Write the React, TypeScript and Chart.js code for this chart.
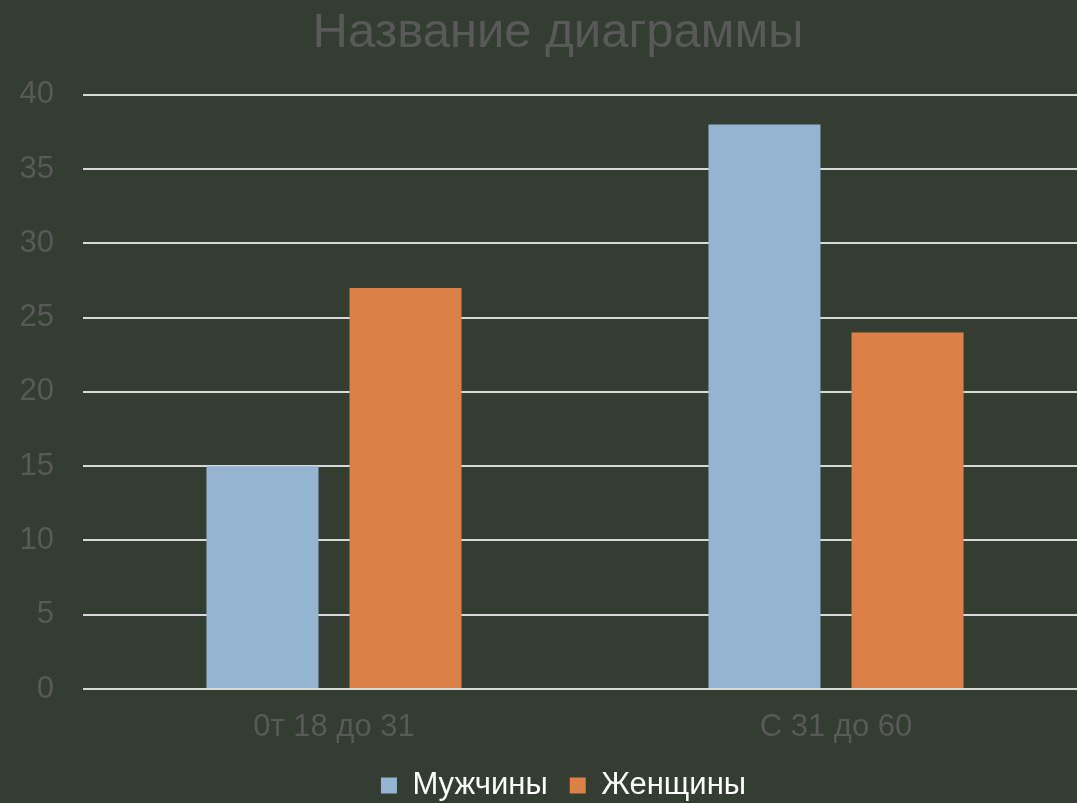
import React, { useEffect, useRef } from "react";
import { Chart, registerables } from "chart.js";

Chart.register(...registerables);

const categories = ["0т 18 до 31", "С 31 до 60"];
const seriesNames = ["Мужчины", "Женщины"];
const menValues = [15, 38];
const womenValues = [27, 24];
const yTicks = [0, 5, 10, 15, 20, 25, 30, 35, 40];

const BG = "#333d31";
const FONT = "'Liberation Sans', Arial, sans-serif";

export default function App() {
  const ref = useRef<HTMLCanvasElement | null>(null);
  useEffect(() => {
    document.body.style.margin = "0";
    const ctx = ref.current!;
    const chart = new Chart(ctx, {
      type: "bar",
      data: {
        labels: categories,
        datasets: [
          { label: seriesNames[0], data: menValues, backgroundColor: "#95b4d2", borderWidth: 0 },
          { label: seriesNames[1], data: womenValues, backgroundColor: "#dd8047", borderWidth: 0 },
        ],
      },
      options: {
        animation: false,
        responsive: false,
        maintainAspectRatio: false,
        layout: { padding: { left: 0, right: 0, top: 0, bottom: -8 } },
        datasets: { bar: { categoryPercentage: 0.57, barPercentage: 0.783 } },
        plugins: {
          title: {
            display: true,
            text: "Название диаграммы",
            color: "#595959",
            font: { family: FONT, size: 49, weight: "normal" },
            padding: { top: 4, bottom: 32 },
          },
          legend: {
            position: "bottom",
            labels: {
              color: "#ffffff",
              font: { family: FONT, size: 31 },
              boxWidth: 16,
              boxHeight: 16,
              padding: 22,
            },
          },
          tooltip: { enabled: false },
        },
        scales: {
          x: {
            grid: { display: false },
            border: { display: false },
            afterFit: (scale: any) => {
              scale.height = 59;
            },
            ticks: { color: "#595959", font: { family: FONT, size: 31 }, padding: 12 },
          },
          y: {
            min: 0,
            max: 40,
            afterBuildTicks: (scale: any) => {
              scale.ticks = yTicks.map((v) => ({ value: v }));
            },
            afterFit: (scale: any) => {
              scale.width = 83;
            },
            grid: { color: "#d9d9d9", lineWidth: 2, drawTicks: false },
            border: { display: false },
            ticks: { color: "#595959", font: { family: FONT, size: 31 }, padding: 29 },
          },
        },
      },
      plugins: [
        {
          id: "bg",
          beforeDraw: (c: any) => {
            const g = c.ctx;
            g.save();
            g.fillStyle = BG;
            g.fillRect(0, 0, c.width, c.height);
            g.restore();
          },
        },
        {
          id: "shiftBoxes",
          afterLayout: (c: any) => {
            if (c.titleBlock) {
              c.titleBlock.left += 29;
            }
            if (c.legend) {
              c.legend.left += 20;
              c.legend.right += 20;
            }
          },
        },
      ],
    });
    return () => chart.destroy();
  }, []);
  return (
    <div style={{ width: 1077, height: 803, background: BG, overflow: "hidden" }}>
      <canvas ref={ref} width={1087} height={803} style={{ display: "block" }} />
    </div>
  );
}
